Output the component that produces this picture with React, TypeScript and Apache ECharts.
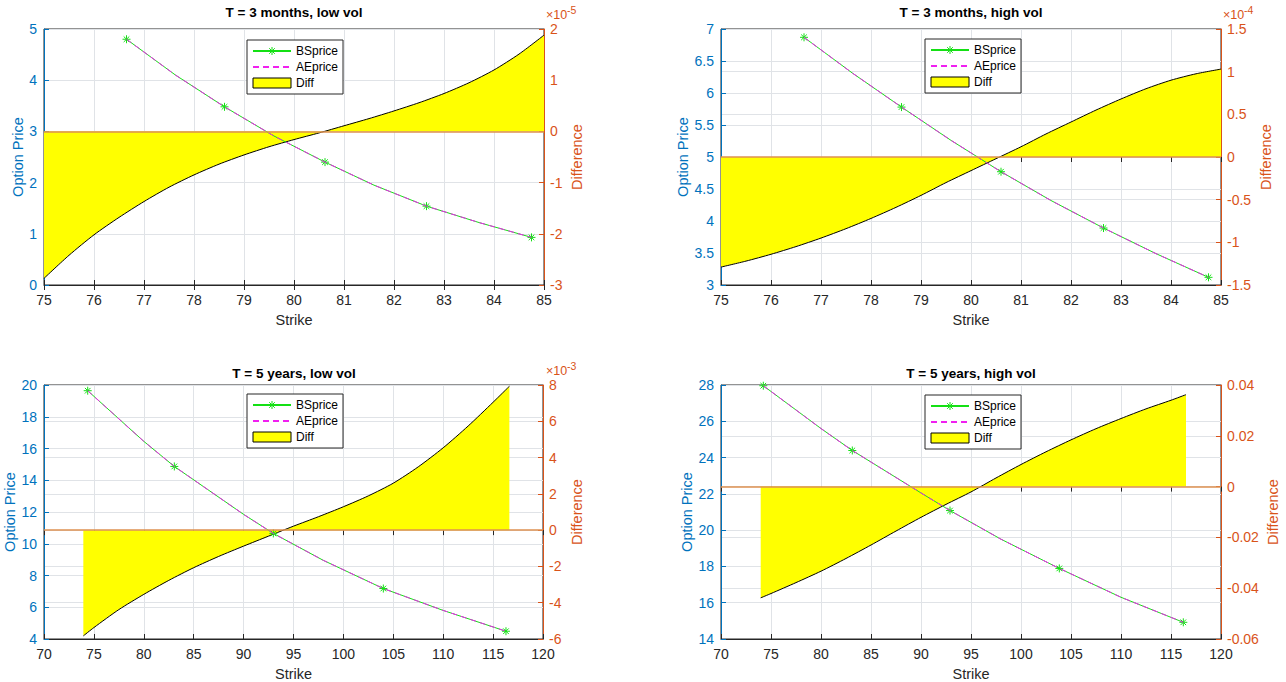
import React, { useEffect, useRef } from 'react';
import * as echarts from 'echarts';

const FONT = '"Liberation Sans", Arial, Helvetica, sans-serif';
const BLUE = '#0072BD';
const ORANGE = '#D95319';
const DARK = '#262626';
const GRIDC = '#E0E3E7';
const GREEN = '#14E014';
const MAGENTA = '#F020F0';
const YELLOW = '#FFFF00';
const BASE = '#DE9050';
const ASTERISK = 'path://M5,0L5,10M0,5L10,5M1.5,1.5L8.5,8.5M1.5,8.5L8.5,1.5';

const titles = ['T = 3 months, low vol', 'T = 3 months, high vol', 'T = 5 years, low vol', 'T = 5 years, high vol'];
const legendNames = ['BSprice', 'AEprice', 'Diff'];
const markerIdx = [0, 2, 4, 6, 8];

// Panel 1: T = 3 months, low vol
const bsX1 = [76.65, 77.63, 78.61, 79.6, 80.62, 81.6, 82.65, 83.7, 84.75];
const bsY1 = [4.8, 4.1, 3.48, 2.91, 2.4, 1.95, 1.54, 1.22, 0.93];
const aeY1 = [4.8, 4.1, 3.48, 2.91, 2.4, 1.95, 1.54, 1.22, 0.93];
const diffX1 = [75, 75.5, 76, 76.5, 77, 77.5, 78, 78.5, 79, 79.5, 80, 80.5, 81, 81.5, 82, 82.5, 83, 83.5, 84, 84.5, 85];
const diffY1 = [-2.87e-5, -2.42e-5, -2.02e-5, -1.68e-5, -1.37e-5, -1.09e-5, -0.85e-5, -0.64e-5, -0.46e-5, -0.3e-5, -0.16e-5, -0.03e-5, 0.11e-5, 0.25e-5, 0.4e-5, 0.56e-5, 0.74e-5, 0.95e-5, 1.2e-5, 1.51e-5, 1.88e-5];

// Panel 2: T = 3 months, high vol
const bsX2 = [76.66, 77.63, 78.61, 79.6, 80.6, 81.6, 82.65, 83.7, 84.75];
const bsY2 = [6.87, 6.31, 5.78, 5.26, 4.77, 4.32, 3.89, 3.49, 3.12];
const aeY2 = [6.87, 6.31, 5.78, 5.26, 4.77, 4.32, 3.89, 3.49, 3.12];
const diffX2 = [75, 75.5, 76, 76.5, 77, 77.5, 78, 78.5, 79, 79.5, 80, 80.5, 81, 81.5, 82, 82.5, 83, 83.5, 84, 84.5, 85];
const diffY2 = [-1.29e-4, -1.22e-4, -1.14e-4, -1.05e-4, -0.95e-4, -0.84e-4, -0.72e-4, -0.59e-4, -0.45e-4, -0.3e-4, -0.16e-4, -0.02e-4, 0.12e-4, 0.27e-4, 0.41e-4, 0.55e-4, 0.68e-4, 0.8e-4, 0.9e-4, 0.975e-4, 1.03e-4];

// Panel 3: T = 5 years, low vol
const bsX3 = [74.38, 80, 83.06, 90, 92.98, 98, 104.0, 110, 116.29];
const bsY3 = [19.64, 16.45, 14.87, 11.85, 10.65, 8.95, 7.18, 5.8, 4.49];
const aeY3 = [19.64, 16.45, 14.87, 11.85, 10.65, 8.95, 7.18, 5.8, 4.49];
const diffX3 = [73.94, 75, 77.5, 80, 82.5, 85, 87.5, 90, 92.5, 95, 97.5, 100, 102.5, 105, 107.5, 110, 112.5, 115, 116.63];
const diffY3 = [-5.83e-3, -5.37e-3, -4.38e-3, -3.54e-3, -2.77e-3, -2.07e-3, -1.45e-3, -0.88e-3, -0.33e-3, 0.22e-3, 0.74e-3, 1.29e-3, 1.89e-3, 2.59e-3, 3.49e-3, 4.54e-3, 5.74e-3, 7.05e-3, 7.93e-3];

// Panel 4: T = 5 years, high vol
const bsX4 = [74.23, 80, 83.13, 90, 92.9, 98, 103.83, 110, 116.23];
const bsY4 = [27.96, 25.6, 24.39, 22.05, 21.08, 19.5, 17.89, 16.3, 14.92];
const aeY4 = [27.96, 25.6, 24.39, 22.05, 21.08, 19.5, 17.89, 16.3, 14.92];
const diffX4 = [73.97, 75, 77.5, 80, 82.5, 85, 87.5, 90, 92.5, 95, 97.5, 100, 102.5, 105, 107.5, 110, 112.5, 115, 116.5];
const diffY4 = [-0.0438, -0.0421, -0.0378, -0.0333, -0.0283, -0.023, -0.0175, -0.0121, -0.007, -0.0021, 0.0034, 0.0087, 0.0137, 0.0184, 0.0228, 0.0268, 0.0306, 0.034, 0.0362];

// Axis ranges: [min, max, interval]
const xRanges = [[75, 85, 1], [75, 85, 1], [70, 120, 5], [70, 120, 5]];
const leftRanges = [[0, 5, 1], [3, 7, 0.5], [4, 20, 2], [14, 28, 2]];
const rightRanges = [[-3e-5, 2e-5, 1e-5], [-1.5e-4, 1.5e-4, 0.5e-4], [-6e-3, 8e-3, 2e-3], [-0.06, 0.04, 0.02]];
const rightScales = [1e-5, 1e-4, 1e-3, 1];
const rightExponents = ['-5', '-4', '-3', ''];

const panels = [
  { bsX: bsX1, bsY: bsY1, aeY: aeY1, diffX: diffX1, diffY: diffY1 },
  { bsX: bsX2, bsY: bsY2, aeY: aeY2, diffX: diffX2, diffY: diffY2 },
  { bsX: bsX3, bsY: bsY3, aeY: aeY3, diffX: diffX3, diffY: diffY3 },
  { bsX: bsX4, bsY: bsY4, aeY: aeY4, diffX: diffX4, diffY: diffY4 },
];

// Layout (positions only)
const layout = [
  { grid: { left: 44, top: 29, width: 500, height: 256 }, legend: { left: 247, top: 40 }, title: [294, 12], lGap: 19, rGap: 25, exp: [546, 15] },
  { grid: { left: 721, top: 29, width: 500, height: 256 }, legend: { left: 925, top: 39 }, title: [971, 12], lGap: 31, rGap: 37, exp: [1223, 15] },
  { grid: { left: 44, top: 385, width: 499, height: 255 }, legend: { left: 247, top: 394 }, title: [294, 373], lGap: 26, rGap: 26, exp: [546, 371] },
  { grid: { left: 721, top: 385, width: 500, height: 256 }, legend: { left: 925, top: 395 }, title: [971, 373], lGap: 26, rGap: 44, exp: [1223, 371] },
];

function fmt(v: number, scale: number) {
  const r = Math.round((v / scale) * 1e6) / 1e6;
  return String(r === 0 ? 0 : r);
}

function buildOption() {
  const grid: any[] = [];
  const xAxis: any[] = [];
  const yAxis: any[] = [];
  const series: any[] = [];
  const legend: any[] = [];
  const graphic: any[] = [];

  panels.forEach((p, i) => {
    const L = layout[i];
    grid.push({ ...L.grid, show: true, borderColor: DARK, borderWidth: 1, backgroundColor: '#fff' });
    const [xmin, xmax, xint] = xRanges[i];
    xAxis.push({
      type: 'value', gridIndex: i, position: 'bottom', min: xmin, max: xmax, interval: xint,
      name: 'Strike', nameLocation: 'middle', nameGap: 27,
      nameTextStyle: { color: DARK, fontSize: 14.5, fontFamily: FONT },
      axisLine: { show: true, onZero: false, lineStyle: { color: DARK, width: 1 } },
      axisTick: { show: true, inside: true, length: 5, lineStyle: { color: DARK } },
      axisLabel: { color: DARK, fontSize: 14, fontFamily: FONT, margin: 8 },
      splitLine: { show: true, lineStyle: { color: GRIDC, width: 1 } },
    });
    xAxis.push({
      type: 'value', gridIndex: i, position: 'top', min: xmin, max: xmax, interval: xint,
      axisLine: { show: false },
      axisTick: { show: true, inside: true, length: 5, lineStyle: { color: DARK } },
      axisLabel: { show: false },
      splitLine: { show: false },
    });
    const [lmin, lmax, lint] = leftRanges[i];
    yAxis.push({
      type: 'value', gridIndex: i, position: 'left', min: lmin, max: lmax, interval: lint,
      name: 'Option Price', nameLocation: 'middle', nameGap: L.lGap,
      nameTextStyle: { color: BLUE, fontSize: 14.5, fontFamily: FONT },
      axisLine: { show: true, onZero: false, lineStyle: { color: BLUE, width: 1 } },
      axisTick: { show: true, inside: true, length: 5, lineStyle: { color: BLUE } },
      axisLabel: { color: BLUE, fontSize: 14, fontFamily: FONT, margin: 7 },
      splitLine: { show: true, lineStyle: { color: GRIDC, width: 1 } },
    });
    const [rmin, rmax, rint] = rightRanges[i];
    const sc = rightScales[i];
    yAxis.push({
      type: 'value', gridIndex: i, position: 'right', min: rmin, max: rmax, interval: rint,
      name: 'Difference', nameLocation: 'middle', nameGap: L.rGap,
      nameTextStyle: { color: ORANGE, fontSize: 14.5, fontFamily: FONT },
      axisLine: { show: true, onZero: false, lineStyle: { color: ORANGE, width: 1 } },
      axisTick: { show: true, inside: true, length: 5, lineStyle: { color: ORANGE } },
      axisLabel: { color: ORANGE, fontSize: 14, fontFamily: FONT, margin: 6, formatter: (v: number) => fmt(v, sc) },
      splitLine: { show: true, lineStyle: { color: GRIDC, width: 1 } },
    });

    series.push({
      type: 'line', name: 'Diff', xAxisIndex: i * 2, yAxisIndex: i * 2 + 1,
      data: p.diffX.map((x, j) => [x, p.diffY[j]]),
      symbol: 'none', z: 2, smooth: 0.25,
      lineStyle: { color: '#000', width: 1 },
      itemStyle: { color: YELLOW },
      areaStyle: { color: YELLOW, opacity: 1 },
      markLine: {
        silent: true, symbol: ['none', 'none'], label: { show: false },
        lineStyle: { color: BASE, width: 1.5, type: 'solid' },
        data: [{ yAxis: 0 }],
      },
    });
    series.push({
      type: 'line', name: 'BSprice', xAxisIndex: i * 2, yAxisIndex: i * 2,
      data: p.bsX.map((x, j) => (markerIdx.includes(j) ? [x, p.bsY[j]] : { value: [x, p.bsY[j]], symbol: 'none' })),
      symbol: ASTERISK, symbolSize: 8, showSymbol: true, z: 3,
      lineStyle: { color: GREEN, width: 1 },
      itemStyle: { color: GREEN, borderColor: GREEN, borderWidth: 1 },
    });
    series.push({
      type: 'line', name: 'AEprice', xAxisIndex: i * 2, yAxisIndex: i * 2,
      data: p.bsX.map((x, j) => [x, p.aeY[j]]),
      symbol: 'none', z: 4,
      lineStyle: { color: MAGENTA, width: 1, type: [6, 4] },
      itemStyle: { color: MAGENTA },
    });

    legend.push({
      ...L.legend, orient: 'vertical', itemWidth: 38, itemHeight: 10, itemGap: 4,
      padding: [5, 5, 5, 5], backgroundColor: '#fff', borderColor: DARK, borderWidth: 1,
      selectedMode: false,
      textStyle: { fontSize: 12, color: '#000', fontFamily: FONT },
      data: [
        { name: legendNames[0], itemStyle: { borderWidth: 1 } },
        { name: legendNames[1], itemStyle: { opacity: 0 } },
        { name: legendNames[2], icon: 'rect', itemStyle: { color: YELLOW, borderColor: '#000', borderWidth: 1 } },
      ],
    });

    graphic.push({
      type: 'text', x: L.title[0], y: L.title[1],
      style: { text: titles[i], fill: '#000', fontSize: 13.5, fontWeight: 'bold', fontFamily: FONT, align: 'center', verticalAlign: 'middle' },
    });
    if (rightExponents[i]) {
      graphic.push({
        type: 'text', x: L.exp[0], y: L.exp[1],
        style: { text: '\u00d710', fill: ORANGE, fontSize: 12.5, fontFamily: FONT, align: 'left', verticalAlign: 'middle' },
      });
      graphic.push({
        type: 'text', x: L.exp[0] + 21, y: L.exp[1] - 5,
        style: { text: rightExponents[i], fill: ORANGE, fontSize: 10.5, fontFamily: FONT, align: 'left', verticalAlign: 'middle' },
      });
    }
  });

  return { animation: false, backgroundColor: '#fff', grid, xAxis, yAxis, series, legend, graphic };
}

export default function App() {
  const ref = useRef<HTMLDivElement>(null);
  useEffect(() => {
    if (!ref.current) return;
    const chart = echarts.init(ref.current, null, { renderer: 'svg' });
    chart.setOption(buildOption() as any);
    return () => chart.dispose();
  }, []);
  return <div ref={ref} style={{ position: 'absolute', left: 0, top: 0, width: 1286, height: 682, background: '#fff' }} />;
}
